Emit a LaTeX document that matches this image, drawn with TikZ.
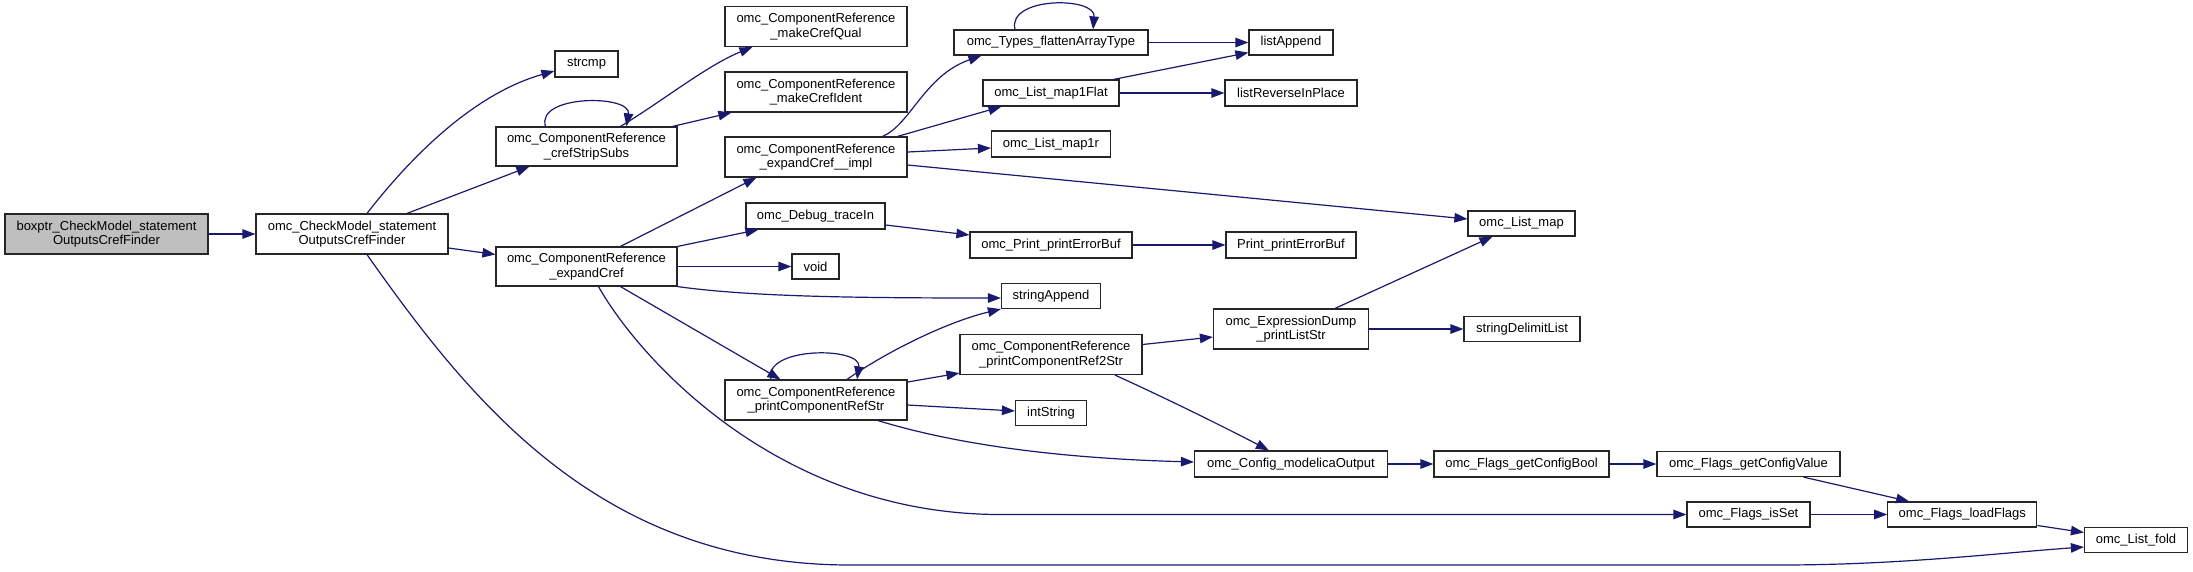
\documentclass[tikz,border=0pt]{standalone}
\usepackage{fontspec}
\setmainfont{Liberation Sans}
\usetikzlibrary{arrows.meta,calc}
\definecolor{edgeblue}{HTML}{191970}
\definecolor{boxgrey}{HTML}{BFBFBF}
\begin{document}
\begin{tikzpicture}[x=1pt,y=-1pt,
 fn/.style={draw=black!85, line width=1.2pt, rectangle, inner sep=0pt, align=center,
   font=\fontsize{13}{14.5}\selectfont, minimum height=25pt},
 tall/.style={minimum height=40pt},
 call/.style={draw=edgeblue, line width=1.2pt, -{Triangle[length=13pt,width=9.5pt]}},
]
\useasboundingbox (0,0) rectangle (2193,571);
\fill[white] (0,0) rectangle (2193,571);

% nodes
\node[fn, tall, minimum width=203pt, fill=boxgrey] (boxptr) at (106.5,234) {boxptr\_CheckModel\_statement\\OutputsCrefFinder};
\node[fn, tall, minimum width=192pt] (cm) at (352,234) {omc\_CheckModel\_statement\\OutputsCrefFinder};
\node[fn, minimum width=63pt, minimum height=26pt] (strcmp) at (586.5,64) {strcmp};
\node[fn, tall, minimum width=181pt, minimum height=39pt] (css) at (586.5,146.5) {omc\_ComponentReference\\\_crefStripSubs};
\node[fn, tall, minimum width=181pt, minimum height=39pt] (ec) at (586.5,266.5) {omc\_ComponentReference\\\_expandCref};
\node[fn, tall, minimum width=182pt] (mcq) at (816,26.5) {omc\_ComponentReference\\\_makeCrefQual};
\node[fn, tall, minimum width=182pt] (mci) at (816,92) {omc\_ComponentReference\\\_makeCrefIdent};
\node[fn, tall, minimum width=182pt] (eci) at (816,157) {omc\_ComponentReference\\\_expandCref\_\_impl};
\node[fn, minimum width=139pt, minimum height=26pt] (dbg) at (815.5,216) {omc\_Debug\_traceIn};
\node[fn, minimum width=47pt] (void) at (815.5,266.5) {void};
\node[fn, tall, minimum width=182pt] (pcrs) at (816,400) {omc\_ComponentReference\\\_printComponentRefStr};
\node[fn, minimum width=194pt] (fat) at (1051,42.5) {omc\_Types\_flattenArrayType};
\node[fn, minimum width=136pt, minimum height=26pt] (m1f) at (1051,93) {omc\_List\_map1Flat};
\node[fn, minimum width=119pt, minimum height=26pt] (m1r) at (1051,144) {omc\_List\_map1r};
\node[fn, minimum width=162pt, minimum height=26pt] (ppeb) at (1051,245) {omc\_Print\_printErrorBuf};
\node[fn, minimum width=99pt] (sa) at (1051,296) {stringAppend};
\node[fn, tall, minimum width=182pt] (pcr2) at (1051,354.5) {omc\_ComponentReference\\\_printComponentRef2Str};
\node[fn, minimum width=71pt] (ints) at (1051,413) {intString};
\node[fn, minimum width=84pt] (la) at (1291,42.5) {listAppend};
\node[fn, minimum width=132pt, minimum height=26pt] (lrip) at (1291,93) {listReverseInPlace};
\node[fn, minimum width=130pt, minimum height=26pt] (peb) at (1291,245) {Print\_printErrorBuf};
\node[fn, tall, minimum width=155pt] (ed) at (1291,329) {omc\_ExpressionDump\\\_printListStr};
\node[fn, minimum width=193pt, minimum height=26pt] (cfg) at (1291,464) {omc\_Config\_modelicaOutput};
\node[fn, minimum width=107pt] (lm) at (1521.5,223.5) {omc\_List\_map};
\node[fn, minimum width=116pt] (sdl) at (1522,329) {stringDelimitList};
\node[fn, minimum width=175pt, minimum height=26pt] (gcb) at (1521.5,464) {omc\_Flags\_getConfigBool};
\node[fn, minimum width=183pt] (gcv) at (1748.5,464) {omc\_Flags\_getConfigValue};
\node[fn, minimum width=123pt] (fis) at (1748.5,514.5) {omc\_Flags\_isSet};
\node[fn, minimum width=149pt] (lf) at (1962.3,514.5) {omc\_Flags\_loadFlags};
\node[fn, minimum width=103pt] (fold) at (2136,540) {omc\_List\_fold};

% edges
\draw[call] (boxptr.east) -- (cm.west);
\draw[call] ($(cm.north)+(15,0)$) .. controls +(38,-49) and +(-85,24) .. ($(strcmp.west)+(0,7)$);
\draw[call] ($(cm.north)+(55,0)$) -- ($(css.south west)+(34,0)$);
\draw[call] ($(cm.east)+(0,14)$) -- ($(ec.west)+(0,-12)$);
\coordinate (cmA) at (850,565);
\coordinate (cmB) at (1780,565);
\draw[call] ($(cm.south)+(15,0)$) .. controls +(103,146) and +(-250,0) .. (cmA) -- (cmB)
   .. controls +(120,0) and +(-85,6) .. ($(fold.west)+(0,7)$);

\draw[call] ($(css.north)+(-41,0)$) .. controls +(-10,-32) and +(5,-32) .. ($(css.north)+(40,0)$);
\draw[call] ($(css.north)+(34,0)$) .. controls +(40,-24) and +(-45,18) .. ($(mcq.south west)+(28,0)$);
\draw[call] ($(css.north east)+(-5,0)$) -- ($(mci.south west)+(7,0)$);

\draw[call] ($(ec.north)+(34,0)$) -- ($(eci.south west)+(32,0)$);
\draw[call] (ec.north east) -- ($(dbg.south west)+(13,0)$);
\draw[call] (ec.east) -- (void.west);
\draw[call] (ec.south east) .. controls +(73,10) and +(-150,0) .. ($(sa.west)+(0,2)$);
\draw[call] ($(ec.south)+(34,0)$) -- ($(pcrs.north west)+(56,0)$);
\coordinate (ecA) at (1000,514.5);
\draw[call] ($(ec.south)+(12,0)$) .. controls +(42,74) and +(-220,0) .. (ecA) -- (fis.west);

\draw[call] ($(eci.north east)+(-25,0)$) .. controls +(28,-12) and +(-57,20) .. ($(fat.south west)+(28,0)$);
\draw[call] ($(eci.north east)+(-10,0)$) -- ($(m1f.south west)+(19,0)$);
\draw[call] ($(eci.east)+(0,-5)$) -- ($(m1r.west)+(0,4)$);
\draw[call] ($(eci.east)+(0,8)$) -- ($(lm.west)+(0,-4.5)$);

\draw[call] ($(fat.north)+(-36,0)$) .. controls +(-8,-33) and +(3,-33) .. ($(fat.north)+(42,0)$);
\draw[call] (fat.east) -- (la.west);
\draw[call] ($(m1f.north east)+(-6,0)$) -- ($(la.south west)+(0,-3)$);
\draw[call] (m1f.east) -- (lrip.west);
\draw[call] ($(dbg.east)+(0,9)$) -- ($(ppeb.west)+(0,-10)$);
\draw[call] (ppeb.east) -- (peb.west);

\draw[call] ($(pcrs.north)+(-45,0)$) .. controls +(-8,-33) and +(5,-33) .. ($(pcrs.north)+(41,0)$);
\draw[call] ($(pcrs.north)+(31,0)$) .. controls +(43,-30) and +(-51,12) .. (sa.south west);
\draw[call] ($(pcrs.east)+(0,-18)$) -- ($(pcr2.south west)+(0,-2)$);
\draw[call] ($(pcrs.east)+(0,5)$) -- ($(ints.west)+(0,-2)$);
\draw[call] ($(pcrs.south)+(62,0)$) .. controls +(72,22) and +(-145,-4) .. ($(cfg.west)+(0,-2)$);
\draw[call] ($(pcr2.east)+(0,-10)$) -- ($(ed.west)+(0,8)$);
\draw[call] ($(pcr2.south)+(64,0)$) .. controls +(55,25) and +(-40,-21) .. ($(cfg.north west)+(75,0)$);

\draw[call] ($(ed.north)+(44,0)$) -- ($(lm.south west)+(25,0)$);
\draw[call] (ed.east) -- (sdl.west);
\draw[call] (cfg.east) -- (gcb.west);
\draw[call] (gcb.east) -- (gcv.west);
\draw[call] ($(gcv.south)+(55,0)$) -- ($(lf.north west)+(22,0)$);
\draw[call] (fis.east) -- (lf.west);
\draw[call] ($(lf.east)+(0,11)$) -- ($(fold.west)+(0,-7.5)$);
\end{tikzpicture}
\end{document}
